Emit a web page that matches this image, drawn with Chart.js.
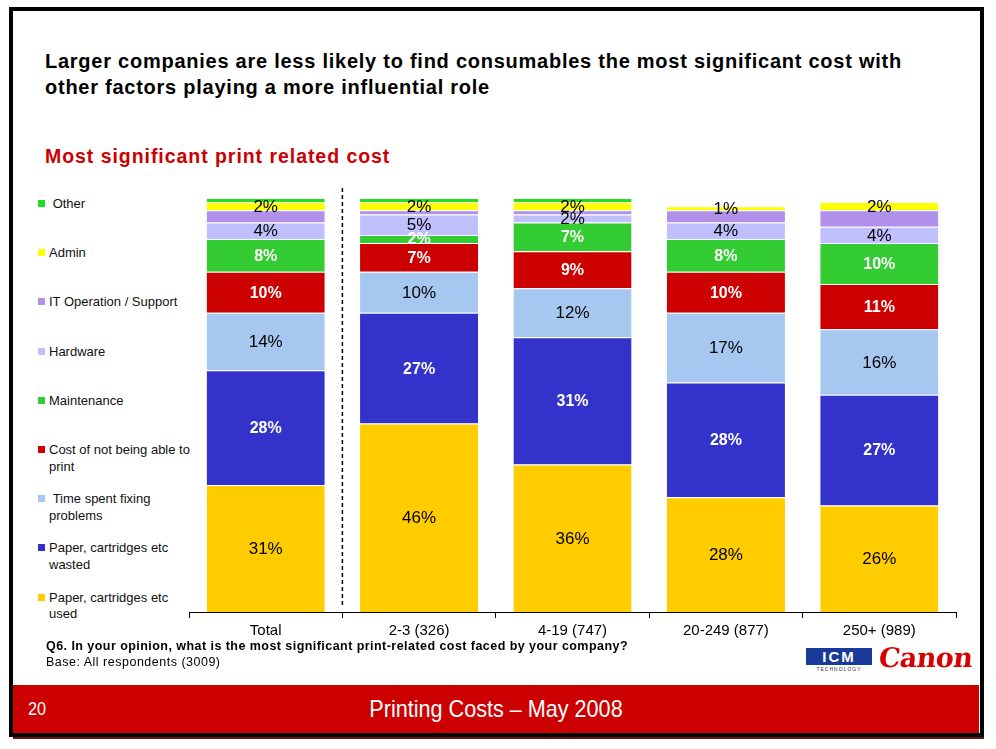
<!DOCTYPE html>
<html>
<head>
<meta charset="utf-8">
<script src="https://cdn.jsdelivr.net/npm/chart.js@4.4.0/dist/chart.umd.min.js"></script>
<style>
  html, body { margin:0; padding:0; background:#fff; }
  body { width:996px; height:749px; position:relative; overflow:hidden; font-family:"Liberation Sans", Arial, sans-serif; }
  #frame { position:absolute; left:9px; top:7px; width:967px; height:722px; border:4px solid #000; }
  #shadow { position:absolute; left:13px; top:737px; width:971px; height:2px; background:#6a1010; }
  #title { position:absolute; left:45px; top:48px; width:920px; font-weight:bold; font-size:20px; letter-spacing:0.75px; line-height:26px; color:#000; white-space:nowrap; }
  #subtitle { position:absolute; left:45px; top:145px; font-weight:bold; font-size:19.5px; letter-spacing:0.95px; color:#cc0000; white-space:nowrap; }
  #legend { position:absolute; left:38px; top:196px; }
  .li { position:absolute; left:0; width:170px; font-size:13px; line-height:16.5px; color:#111; white-space:pre-wrap; }
  .li .sw { position:absolute; left:0; top:4px; width:7px; height:7px; }
  .li .tx { position:absolute; left:11px; width:148px; }
  #chartWrap { position:absolute; left:180px; top:180px; width:790px; height:470px; }
  #q { position:absolute; left:46px; top:639px; font-size:12.5px; letter-spacing:0.45px; font-weight:bold; color:#000; white-space:nowrap; }
  #base { position:absolute; left:46px; top:655px; font-size:12.5px; letter-spacing:0.5px; color:#000; white-space:nowrap; }
  #band { position:absolute; left:13px; top:685px; width:966px; height:48px; background:#cc0000; }
  #pg { position:absolute; left:15px; top:14px; color:#fff; font-size:18px; transform:scaleX(0.9); transform-origin:left center; }
  #foot { position:absolute; left:0; width:966px; top:10px; text-align:center; color:#fff; font-size:24px; transform:scaleX(0.9); transform-origin:center center; }
  #icm { position:absolute; left:806px; top:648px; width:66px; height:17px; background:#1a3a9a; color:#fff; font-weight:bold; font-size:15px; line-height:17px; text-align:center; letter-spacing:2px; }
  #icm2 { position:absolute; left:806px; top:666px; width:66px; font-size:5px; color:#334; text-align:center; letter-spacing:1px; }
  #canon { position:absolute; left:879px; top:642px; color:#d80000; font-family:"DejaVu Serif","Liberation Serif",serif; font-weight:bold; font-size:27px; letter-spacing:-0.5px; transform:skewX(-6deg); }
</style>
</head>
<body>
<div id="frame"></div>
<div id="shadow"></div>
<div id="title">Larger companies are less likely to find consumables the most significant cost with<br>other factors playing a more influential role</div>
<div id="subtitle">Most significant print related cost</div>
<div id="legend"></div>
<div id="chartWrap"><canvas id="c" width="790" height="470"></canvas></div>
<div id="q">Q6. In your opinion, what is the most significant print-related cost faced by your company?</div>
<div id="base">Base: All respondents (3009)</div>
<div id="icm">ICM</div>
<div id="icm2">TECHNOLOGY</div>
<div id="canon">Canon</div>
<div id="band"><div id="pg">20</div><div id="foot">Printing Costs – May 2008</div></div>
<script>
// ---- Data ----
const categories = ['Total', '2-3 (326)', '4-19 (747)', '20-249 (877)', '250+ (989)'];
const paperUsed    = [31, 46, 36, 28, 26];
const paperWasted  = [28, 27, 31, 28, 27];
const timeFixing   = [14, 10, 12, 17, 16];
const costNotPrint = [10, 7, 9, 10, 11];
const maintenance  = [8, 2, 7, 8, 10];
const hardware     = [4, 5, 2, 4, 4];
const itOperation  = [3, 1, 1, 3, 4];
const admin        = [2, 2, 2, 1, 2];
const other        = [1, 1, 1, 0, 0];
const seriesNames = ['Paper, cartridges etc used', 'Paper, cartridges etc wasted', ' Time spent fixing problems',
  'Cost of not being able to print', 'Maintenance', 'Hardware', 'IT Operation / Support', 'Admin', ' Other'];
const seriesValues = [paperUsed, paperWasted, timeFixing, costNotPrint, maintenance, hardware, itOperation, admin, other];
const seriesColors = ['#ffcc00', '#3333cc', '#a6c8f0', '#cc0000', '#33cc33', '#c0c0ff', '#b090e8', '#ffff00', '#22dd22'];
const labelColors  = ['#000', '#fff', '#000', '#fff', '#fff', '#000', null, '#000', null];

// ---- Legend (top item = last series) ----
const legend = document.getElementById('legend');
for (let i = seriesNames.length - 1, k = 0; i >= 0; i--, k++) {
  const d = document.createElement('div');
  d.className = 'li';
  d.style.top = (k * 49.2) + 'px';
  d.innerHTML = '<div class="sw" style="background:' + seriesColors[i] + '"></div><div class="tx"></div>';
  d.querySelector('.tx').textContent = seriesNames[i];
  legend.appendChild(d);
}

const datasets = seriesValues.map((v, i) => ({
  label: seriesNames[i], data: v, backgroundColor: seriesColors[i],
  borderColor: '#ffffff', borderWidth: { top: 1, bottom: 0, left: 0, right: 0 }, borderSkipped: false,
  labelColor: labelColors[i]
}));

const labelPlugin = {
  id: 'segLabels',
  afterDatasetsDraw(chart) {
    const ctx = chart.ctx;
    ctx.save();
    ctx.textAlign = 'center';
    ctx.textBaseline = 'middle';
    chart.data.datasets.forEach((ds, di) => {
      if (!ds.labelColor) return;
      const meta = chart.getDatasetMeta(di);
      meta.data.forEach((bar, j) => {
        const v = ds.data[j];
        if (!v) return;
        const y = (bar.y + bar.base) / 2;
        ctx.fillStyle = ds.labelColor;
        ctx.font = (ds.labelColor === '#fff' ? 'bold 16px' : '17px') + ' "Liberation Sans", Arial, sans-serif';
        ctx.fillText(v + '%', bar.x, y + 1);
      });
    });
    ctx.restore();
  }
};

const dividerPlugin = {
  id: 'divider',
  afterDatasetsDraw(chart) {
    const x = chart.scales.x;
    const px = (x.getPixelForValue(0) + x.getPixelForValue(1)) / 2;
    const ctx = chart.ctx;
    ctx.save();
    ctx.strokeStyle = '#000';
    ctx.lineWidth = 1.5;
    ctx.setLineDash([4, 3]);
    ctx.beginPath();
    ctx.moveTo(px, chart.chartArea.top - 10);
    ctx.lineTo(px, chart.chartArea.bottom - 7);
    ctx.stroke();
    ctx.restore();
  }
};

new Chart(document.getElementById('c'), {
  type: 'bar',
  data: { labels: categories, datasets: datasets },
  options: {
    responsive: false,
    animation: false,
    layout: { padding: { top: 18, bottom: 6, left: 9, right: 14 } },
    plugins: { legend: { display: false }, tooltip: { enabled: false } },
    datasets: { bar: { categoryPercentage: 1, barPercentage: 0.77 } },
    scales: {
      x: {
        stacked: true,
        grid: { display: true, drawOnChartArea: false, drawTicks: true, tickLength: 6, color: '#000', offset: true },
        border: { display: true, color: '#000', width: 1 },
        ticks: { color: '#000', padding: 4, font: { family: '"Liberation Sans", Arial, sans-serif', size: 15 } }
      },
      y: { stacked: true, display: false, min: 0, max: 101 }
    }
  },
  plugins: [labelPlugin, dividerPlugin]
});
</script>
</body>
</html>
